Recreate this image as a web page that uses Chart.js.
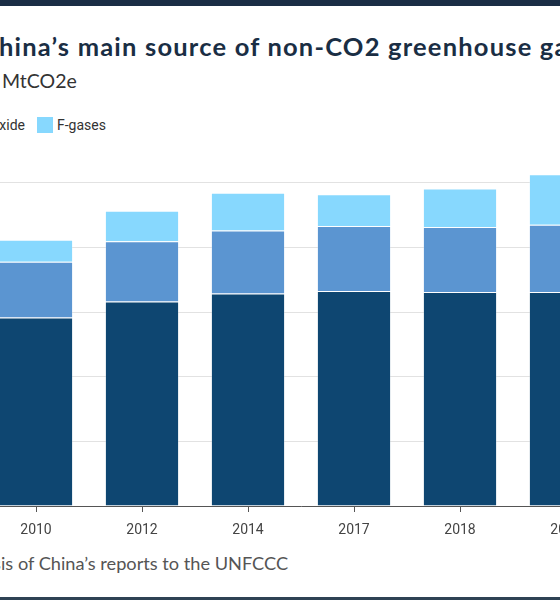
<!DOCTYPE html>
<html>
<head>
<meta charset="utf-8">
<script src="https://cdn.jsdelivr.net/npm/chart.js@4"></script>
<style>
  html, body { margin: 0; padding: 0; background: #fff; overflow: hidden; }
  body { width: 560px; height: 600px; position: relative; }
  .band-top { position: absolute; left: 0; top: 0; width: 560px; height: 6px; background: #1a2d45; }
  .band-bottom { position: absolute; left: 0; top: 597px; width: 560px; height: 3px; background: #2f4254; }
  .line { position: absolute; white-space: nowrap; }
  .pre { position: absolute; right: 100%; top: 0; white-space: pre; }
  .title { left: -1px; top: 31px; font: bold 25.5px Lato, sans-serif; letter-spacing: 1.2px; color: #1a2e44; }
  .subtitle { left: 2px; top: 69px; font: 19.5px Lato, sans-serif; color: #333; }
  .legend { left: 37px; top: 117px; font: 14px Roboto, sans-serif; color: #333; }
  .legend .item { display: inline-flex; align-items: center; margin-right: 12px; }
  .legend .box { display: inline-block; width: 16px; height: 16px; margin-right: 4px; }
  .source { left: 1px; top: 552px; font: 18.2px Lato, sans-serif; color: #555; }
  #wrap { position: absolute; left: -67px; top: 130px; width: 686px; height: 416px; }
</style>
</head>
<body>
<div class="band-top"></div>
<div class="line title"><span class="pre">Methane is C</span>hina’s main source of non-CO2 greenhouse gases</div>
<div class="line subtitle"><span class="pre">Non-CO2 emissions by gas in </span>MtCO2e</div>
<div class="line legend" id="legend"></div>
<div id="wrap"><canvas id="chart"></canvas></div>
<div class="line source"><span class="pre">Source: Carbon Brief analys</span>is of China’s reports to the UNFCCC</div>
<div class="band-bottom"></div>
<script>
const years = ['2010', '2012', '2014', '2017', '2018', '2020'];
const methane = [1167, 1266, 1315, 1331, 1325, 1325];
const nitrousOxide = [345, 373, 391, 402, 402, 417];
const fGases = [137, 189, 234, 197, 238, 312];
const yTicks = [0, 400, 800, 1200, 1600, 2000];

const seriesNames = ['Methane', 'Nitrous oxide', 'F-gases'];
const seriesColors = ['#0e4671', '#5b95d1', '#87d8fe'];

// legend: the last item sits in view, the earlier ones run off to the left
const legend = document.getElementById('legend');
const pre = document.createElement('span');
pre.className = 'pre';
seriesNames.forEach(function(name, i) {
    const item = document.createElement('span');
    item.className = 'item';
    item.innerHTML = '<span class="box" style="background:' + seriesColors[i] + '"></span>' + name;
    if (i < seriesNames.length - 1) pre.appendChild(item);
    else legend.appendChild(item);
});
legend.insertBefore(pre, legend.firstChild);

const ctx = document.getElementById('chart').getContext('2d');
new Chart(ctx, {
    type: 'bar',
    data: {
        labels: years,
        datasets: [methane, nitrousOxide, fGases].map(function(values, i) {
            return {
                label: seriesNames[i],
                data: values,
                backgroundColor: seriesColors[i],
                borderColor: 'rgba(255,255,255,0.25)',
                borderWidth: 1,
                barPercentage: 0.7,
                categoryPercentage: 1
            };
        })
    },
    options: {
        responsive: true,
        maintainAspectRatio: false,
        animation: false,
        layout: { padding: { top: 10, left: 0, right: 0, bottom: 0 } },
        plugins: {
            legend: { display: false },
            tooltip: { enabled: false }
        },
        scales: {
            x: {
                stacked: true,
                grid: { drawOnChartArea: false, offset: false, tickLength: 6, tickColor: '#555' },
                border: { color: '#555' },
                ticks: { color: '#444', font: { family: 'Roboto', size: 14 }, padding: 10 },
                afterFit: function(scale) { scale.height = 40; }
            },
            y: {
                stacked: true,
                min: 0,
                max: 2266,
                grid: { color: '#e2e2e2', lineWidth: 1, drawTicks: false },
                border: { display: false },
                ticks: { color: '#444', font: { family: 'Roboto', size: 12 }, padding: 0 },
                afterBuildTicks: function(scale) {
                    scale.ticks = yTicks.map(v => ({ value: v }));
                },
                afterFit: function(scale) { scale.width = 50; }
            }
        }
    }
});
</script>
</body>
</html>
